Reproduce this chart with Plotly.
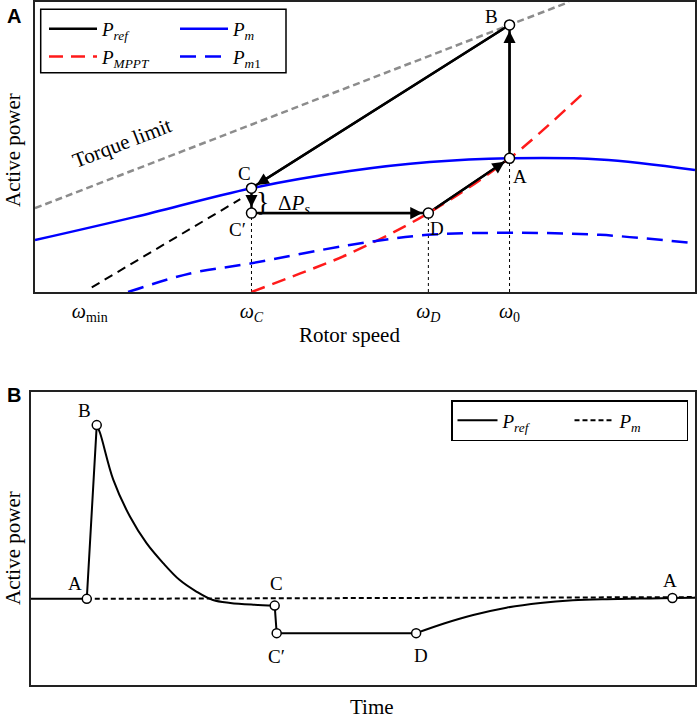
import plotly.graph_objects as go

FONT = "Liberation Serif"
W, H = 699, 718

# %%
# panel A : active power vs rotor speed (speed 0-100, power 0-1, arbitrary units)
speed_pm = [0, 15.2, 32.8, 47.7, 59.8, 71.9, 85.6, 100]
power_pm = [0.179, 0.259, 0.358, 0.417, 0.448, 0.461, 0.457, 0.421]

speed_pm1 = [14.1, 23.5, 32.8, 47.7, 59.5, 72.0, 85.6, 100]
power_pm1 = [0.0, 0.064, 0.099, 0.162, 0.197, 0.204, 0.197, 0.168]

speed_mppt = [32.8, 40.2, 47.7, 59.6, 71.9, 83.6]
power_mppt = [0.0, 0.064, 0.133, 0.272, 0.461, 0.697]

speed_torque = [0, 80.9]
power_torque = [0.289, 1.0]

speed_ext = [8.6, 31.1]
power_ext = [0.016, 0.320]

# operating points A -> B -> C -> C' -> D -> A
pt_names = ["A", "B", "C", "C′", "D"]
pt_speed = [71.9, 71.9, 32.8, 32.8, 59.6]
pt_power = [0.461, 0.921, 0.358, 0.272, 0.272]
path_order = [0, 1, 2, 3, 4, 0]

omega_vals = [8.3, 32.8, 59.6, 71.9]
omega_text = ["<i>ω</i><sub>min</sub>", "<i>ω<sub>C</sub></i>", "<i>ω<sub>D</sub></i>", "<i>ω</i><sub>0</sub>"]

# %%
# panel B : active power vs time (time 0-100, power 0-1)
t_rise = [0, 8.4, 9.9]
p_rise = [0.294, 0.294, 0.887]
t_decay = [9.9, 10.4, 12.4, 14.9, 17.4, 19.9, 22.4, 24.9, 27.4, 30.0, 33.5, 36.7]
p_decay = [0.887, 0.860, 0.700, 0.575, 0.484, 0.416, 0.358, 0.319, 0.290, 0.280, 0.274, 0.271]
t_step = [36.7, 37.0, 58.0]
p_step = [0.271, 0.177, 0.177]
t_recov = [58.0, 62.2, 66.6, 71.6, 76.7, 81.6, 86.7, 91.7, 96.6, 100]
p_recov = [0.177, 0.210, 0.239, 0.264, 0.280, 0.289, 0.293, 0.295, 0.297, 0.298]
t_pm = [8.4, 100]
p_pm = [0.294, 0.300]

ptb_names = ["A", "B", "C", "C′", "D", "A"]
ptb_time = [8.4, 9.9, 36.7, 37.0, 58.0, 96.6]
ptb_power = [0.294, 0.887, 0.271, 0.177, 0.177, 0.297]


def px(x):
    return x / W


def py(y):
    return 1 - y / H


# %%
fig = go.Figure()

# ---- panel A curves
fig.add_trace(go.Scatter(x=speed_torque, y=power_torque, mode="lines", showlegend=False,
                         line=dict(color="#8c8c8c", width=2.5, dash="7px,4px")))
fig.add_trace(go.Scatter(x=speed_ext, y=power_ext, mode="lines", showlegend=False,
                         line=dict(color="black", width=2, dash="9px,6px")))
for i in [3, 4, 0]:
    fig.add_trace(go.Scatter(x=[pt_speed[i], pt_speed[i]], y=[0, pt_power[i]], mode="lines",
                             showlegend=False, line=dict(color="black", width=1, dash="dot")))

fig.add_trace(go.Scatter(x=[pt_speed[i] for i in path_order], y=[pt_power[i] for i in path_order],
                         mode="lines", name="<i>P<sub>ref</sub></i>", legend="legend",
                         line=dict(color="black", width=2.5)))
fig.add_trace(go.Scatter(x=speed_mppt, y=power_mppt, mode="lines", line_shape="spline",
                         name="<i>P<sub>MPPT</sub></i>", legend="legend",
                         line=dict(color="#ff1a1a", width=2.5, dash="14px,8px")))
fig.add_trace(go.Scatter(x=speed_pm, y=power_pm, mode="lines", line_shape="spline",
                         name="<i>P<sub>m</sub></i>", legend="legend2",
                         line=dict(color="#0000ff", width=2.5)))
fig.add_trace(go.Scatter(x=speed_pm1, y=power_pm1, mode="lines", line_shape="spline",
                         name="<i>P<sub>m</sub></i><sub>1</sub>", legend="legend2",
                         line=dict(color="#0000ff", width=2.5, dash="16px,9px")))
fig.add_trace(go.Scatter(x=pt_speed, y=pt_power, mode="markers", showlegend=False,
                         marker=dict(size=10, color="white", line=dict(color="black", width=1.5))))

# ---- panel B curves
fig.add_trace(go.Scatter(x=t_pm, y=p_pm, xaxis="x2", yaxis="y2", mode="lines",
                         name="<i>P<sub>m</sub></i>", legend="legend3",
                         line=dict(color="black", width=2, dash="5px,3px")))
fig.add_trace(go.Scatter(x=t_rise + [None] + t_step, y=p_rise + [None] + p_step, xaxis="x2", yaxis="y2",
                         mode="lines", showlegend=False, line=dict(color="black", width=2)))
fig.add_trace(go.Scatter(x=t_decay, y=p_decay, xaxis="x2", yaxis="y2", mode="lines", line_shape="spline",
                         name="<i>P<sub>ref</sub></i>", legend="legend3", legendrank=1,
                         line=dict(color="black", width=2)))
fig.add_trace(go.Scatter(x=t_recov, y=p_recov, xaxis="x2", yaxis="y2", mode="lines", line_shape="spline",
                         showlegend=False, line=dict(color="black", width=2)))
fig.add_trace(go.Scatter(x=ptb_time, y=ptb_power, xaxis="x2", yaxis="y2", mode="markers", showlegend=False,
                         marker=dict(size=9, color="white", line=dict(color="black", width=1.5))))

# %%
annotations = []
# arrows along the P_ref path in panel A
for a, b in zip(path_order[:-1], path_order[1:]):
    annotations.append(dict(x=pt_speed[b], y=pt_power[b], ax=pt_speed[a], ay=pt_power[a],
                            xref="x", yref="y", axref="x", ayref="y", text="", showarrow=True,
                            arrowhead=2, arrowsize=1.1, arrowwidth=2.2, arrowcolor="black",
                            standoff=6, startstandoff=6))

txt = dict(showarrow=False, font=dict(family=FONT, size=19, color="black"))
lab_a = [("B", 69.2, 0.949), ("A", 73.5, 0.398), ("D", 60.9, 0.220), ("C", 31.7, 0.409), ("C′", 30.7, 0.216)]
for s, x, y in lab_a:
    annotations.append(dict(text=s, x=x, y=y, xref="x", yref="y", **txt))
annotations.append(dict(text="}", x=34.4, y=0.312, xref="x", yref="y", showarrow=False,
                        font=dict(family=FONT, size=28, color="black")))
annotations.append(dict(text="Δ<i>P<sub>s</sub></i>", x=39.2, y=0.305, xref="x", yref="y",
                        showarrow=False, font=dict(family=FONT, size=21, color="black")))
annotations.append(dict(text="Torque limit", x=13.2, y=0.513, xref="x", yref="y", textangle=-21,
                        showarrow=False, font=dict(family=FONT, size=21, color="black")))

lab_b = [("B", 8.1, 0.937), ("A", 6.7, 0.346), ("C", 36.9, 0.346), ("C′", 36.9, 0.096),
         ("D", 58.7, 0.101), ("A", 96.3, 0.358)]
for s, x, y in lab_b:
    annotations.append(dict(text=s, x=x, y=y, xref="x2", yref="y2", **txt))

title = dict(showarrow=False, xref="paper", yref="paper", xanchor="center", yanchor="middle",
             font=dict(family=FONT, size=21, color="black"))
annotations += [
    dict(text="Active power", x=px(13), y=py(150), textangle=-90, **title),
    dict(text="Rotor speed", x=px(349), y=py(335), **title),
    dict(text="Active power", x=px(13), y=py(548), textangle=-90, **title),
    dict(text="Time", x=px(372), y=py(707), **title),
]
panel = dict(showarrow=False, xref="paper", yref="paper", xanchor="center", yanchor="middle",
             font=dict(family="Liberation Sans", size=20, color="black", weight="bold"))
annotations += [
    dict(text="A", x=px(14), y=py(16), **panel),
    dict(text="B", x=px(14), y=py(395), **panel),
]

# %%
axis = dict(showline=True, mirror=True, linecolor="#222", linewidth=1.5, showgrid=False,
            zeroline=False, ticks="", automargin=False)
leg_font = dict(family=FONT, size=19, color="black")

fig.update_layout(
    width=W, height=H,
    margin=dict(l=0, r=0, t=0, b=0),
    plot_bgcolor="white", paper_bgcolor="white",
    font=dict(family=FONT, color="black"),
    xaxis=dict(domain=[px(35), px(695)], range=[0, 100], tickvals=omega_vals, ticktext=omega_text,
               tickfont=dict(family=FONT, size=20), **axis),
    yaxis=dict(domain=[py(292), py(2)], range=[0, 1], showticklabels=False, **axis),
    xaxis2=dict(domain=[px(31), px(695)], range=[0, 100], showticklabels=False, anchor="y2", **axis),
    yaxis2=dict(domain=[py(685), py(392)], range=[0, 1], showticklabels=False, anchor="x2", **axis),
    legend=dict(x=px(44), y=py(10), xanchor="left", yanchor="top", bgcolor="rgba(0,0,0,0)",
                font=leg_font, itemwidth=48, traceorder="normal"),
    legend2=dict(x=px(175), y=py(10), xanchor="left", yanchor="top", bgcolor="rgba(0,0,0,0)",
                 font=leg_font, itemwidth=48, traceorder="normal"),
    legend3=dict(x=px(688), y=py(400), xanchor="right", yanchor="top", orientation="h",
                 bgcolor="white", bordercolor="black", borderwidth=1.5, font=leg_font, itemwidth=40,
                 entrywidth=62, traceorder="normal"),
    shapes=[dict(type="rect", xref="paper", yref="paper", x0=px(40.7), x1=px(286),
                 y0=py(72.7), y1=py(9.3), line=dict(color="black", width=1.5),
                 fillcolor="white", layer="below")],
    annotations=annotations,
)

# the page body has a default 8px margin; drop it so the figure sits at the window corner
fig.write_html("out.html", config={"displayModeBar": False},
               post_script="document.body.style.margin = '0';")
